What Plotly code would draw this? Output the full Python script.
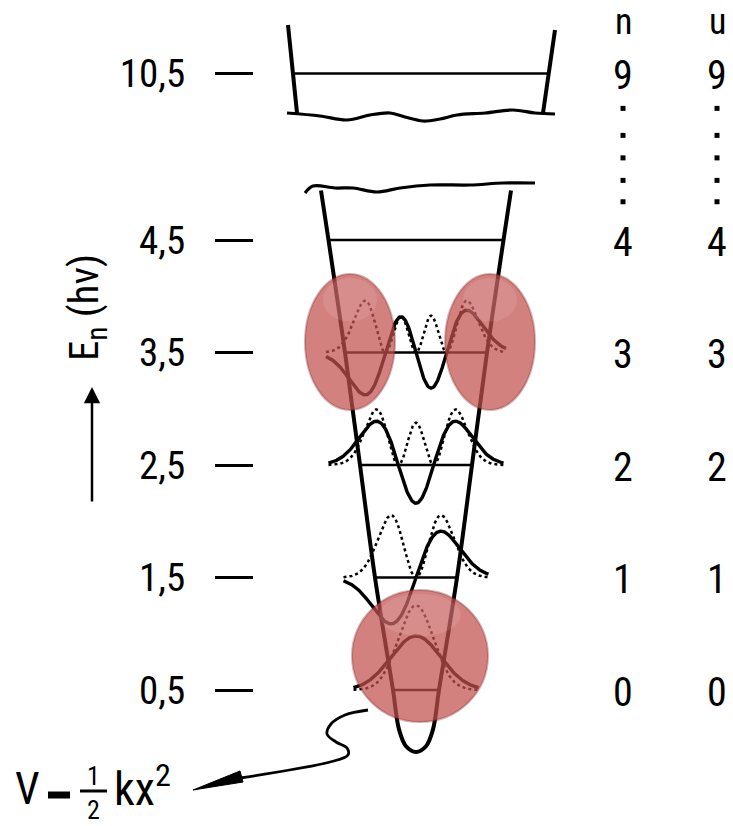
import numpy as np
import plotly.graph_objects as go
from math import factorial, pi, sqrt
from numpy.polynomial.hermite import hermval

W, H = 733, 826

# ---------------- data ----------------
level_energy = [0.5, 1.5, 2.5, 3.5, 4.5, 10.5]
level_n = ["0", "1", "2", "3", "4", "9"]
level_u = ["0", "1", "2", "3", "4", "9"]
level_display = [0.5, 1.5, 2.5, 3.5, 4.5, 5.98]      # 10,5 drawn above an axis break
tick_labels = ["0,5", "1,5", "2,5", "3,5", "4,5", "10,5"]
col_headers = ["n", "u"]
ellipsis_display = [5.67, 5.43, 5.23, 5.03, 4.84]

wave_n = [0, 1, 2, 3]
wave_extent = [2.5, 2.9, 3.5, 3.6]                 # half range of ξ drawn per state

# potential well (lower part): display energy vs half width (ξ units)
wall_E = [-0.05, 0.0, 0.15, 0.5, 1.5, 2.5, 3.5, 4.5, 4.94]
wall_hw = [0.0, 0.40, 0.68, 0.92, 1.64, 2.24, 2.84, 3.50, 3.80]

# upper box (above the break), read in picture pixels
top_left_wall_px = [(288, 25), (297, 113)]
top_right_wall_px = [(555, 30), (543, 113)]
break_low_px = [(287, 113), (320, 116), (347, 120), (370, 115), (390, 113), (405, 117),
                (423, 121), (440, 119), (457, 115), (485, 113), (513, 110), (535, 113), (555, 114)]
break_high_px = [(305, 193), (313, 186), (335, 188), (353, 188), (377, 192), (400, 188),
                 (430, 185), (470, 185), (503, 183), (535, 183)]
v_arrow_px = [(368, 710), (345, 715), (331, 724), (327, 734), (336, 742), (347, 748),
              (348, 755), (330, 762), (240, 778)]

# --------------- scales ---------------
CX, SX = 416.0, 25.0       # px of ξ=0, px per ξ unit
Y0, SY = 690.0, 112.5      # px of E=0.5, px per energy unit


def px2x(px):
    return (px - CX) / SX


def py2y(py):
    return 0.5 + (Y0 - py) / SY


A_PSI = 72 / SY
A_PSI2 = 150 / SY


def psi(n, xi):
    c = np.zeros(n + 1)
    c[n] = 1.0
    return hermval(xi, c) * np.exp(-xi ** 2 / 2) / sqrt(2 ** n * factorial(n) * sqrt(pi))


BLACK = "black"
FONT = "Liberation Sans Narrow, Roboto Condensed, DejaVu Sans Condensed, Arial Narrow, sans-serif"

fig = go.Figure()

# lower well
wx = [-h for h in wall_hw[::-1]] + wall_hw[1:]
wy = wall_E[::-1] + wall_E[1:]
fig.add_trace(go.Scatter(x=wx, y=wy, mode="lines", line=dict(color=BLACK, width=4, shape="spline"),
                         hoverinfo="skip"))

# energy levels in lower well
for E, d in zip(level_energy, level_display):
    if E > 5:
        continue
    hw = float(np.interp(d, wall_E, wall_hw))
    fig.add_trace(go.Scatter(x=[-hw, hw], y=[d, d], mode="lines",
                             line=dict(color=BLACK, width=2.4), hoverinfo="skip"))

# upper box
for wall in (top_left_wall_px, top_right_wall_px):
    fig.add_trace(go.Scatter(x=[px2x(p[0]) for p in wall], y=[py2y(p[1]) for p in wall],
                             mode="lines", line=dict(color=BLACK, width=4), hoverinfo="skip"))
d_top = level_display[-1]
ly = [py2y(p[1]) for p in top_left_wall_px]
lx = [px2x(p[0]) for p in top_left_wall_px]
ry = [py2y(p[1]) for p in top_right_wall_px]
rx = [px2x(p[0]) for p in top_right_wall_px]
xl = float(np.interp(d_top, ly[::-1], lx[::-1]))
xr = float(np.interp(d_top, ry[::-1], rx[::-1]))
fig.add_trace(go.Scatter(x=[xl, xr], y=[d_top, d_top], mode="lines",
                         line=dict(color=BLACK, width=2.6), hoverinfo="skip"))
for br in (break_low_px, break_high_px):
    fig.add_trace(go.Scatter(x=[px2x(p[0]) for p in br], y=[py2y(p[1]) for p in br],
                             mode="lines", line=dict(color=BLACK, width=3.2, shape="spline"),
                             hoverinfo="skip"))

# wavefunctions (solid) and probability densities (dotted)
for n, ext in zip(wave_n, wave_extent):
    E = level_display[n]
    xi = np.linspace(-ext, ext, 300)
    p = psi(n, xi)
    fig.add_trace(go.Scatter(x=xi, y=E + A_PSI2 * p ** 2, mode="lines",
                             line=dict(color=BLACK, width=2.5, dash="dot"), hoverinfo="skip"))
    fig.add_trace(go.Scatter(x=xi, y=E + A_PSI * p, mode="lines",
                             line=dict(color=BLACK, width=3.4), hoverinfo="skip"))

# ellipsis dots in n / u columns
for cx in (623, 717):
    fig.add_trace(go.Scatter(x=[px2x(cx)] * len(ellipsis_display), y=ellipsis_display, mode="markers",
                             marker=dict(symbol="square", size=5, color=BLACK), hoverinfo="skip"))

# arrow curve to potential label
fig.add_trace(go.Scatter(x=[px2x(p[0]) for p in v_arrow_px], y=[py2y(p[1]) for p in v_arrow_px],
                         mode="lines", line=dict(color=BLACK, width=2.8, shape="spline"), hoverinfo="skip"))
head = [(193, 790), (240, 771), (243, 782), (193, 790)]
fig.add_trace(go.Scatter(x=[px2x(p[0]) for p in head], y=[py2y(p[1]) for p in head], mode="lines",
                         fill="toself", fillcolor=BLACK, line=dict(color=BLACK, width=1), hoverinfo="skip"))

ann = []
# n / u columns
for cx, head_txt, vals in ((623, col_headers[0], level_n), (717, col_headers[1], level_u)):
    ann.append(dict(x=px2x(cx), y=py2y(22), text=head_txt, showarrow=False,
                    font=dict(family=FONT, size=36, color=BLACK)))
    for v, d in zip(vals, level_display):
        ann.append(dict(x=px2x(cx), y=d - 2 / SY, text=v, showarrow=False,
                        font=dict(family=FONT, size=40, color=BLACK)))

# axis title
ann.append(dict(x=px2x(87), y=py2y(308), text="E<sub>n</sub> (hν)", textangle=-90, showarrow=False,
                font=dict(family=FONT, size=41, color=BLACK)))
ann.append(dict(x=px2x(92), y=py2y(387), ax=px2x(92), ay=py2y(503), axref="x", ayref="y",
                text="", showarrow=True, arrowhead=2, arrowsize=1.3, arrowwidth=2.5, arrowcolor=BLACK))

# V = 1/2 k x^2
ann.append(dict(x=px2x(27), y=py2y(789), text="V", showarrow=False,
                font=dict(family=FONT, size=44, color=BLACK)))
ann.append(dict(x=px2x(93), y=py2y(793), text="1<br>2", showarrow=False,
                font=dict(family=FONT, size=26, color=BLACK)))
ann.append(dict(x=px2x(112), y=py2y(786), text="kx<sup>2</sup>", showarrow=False, xanchor="left",
                font=dict(family=FONT, size=46, color=BLACK)))

shapes = []
shapes.append(dict(type="line", x0=px2x(48), x1=px2x(70), y0=py2y(795), y1=py2y(795),
                   line=dict(color=BLACK, width=7)))
shapes.append(dict(type="line", x0=px2x(80), x1=px2x(107), y0=py2y(791), y1=py2y(791),
                   line=dict(color=BLACK, width=3)))

# translucent red highlights
for (x0, y0, x1, y1) in ((305, 274, 395, 410), (445, 274, 535, 410), (352, 590, 488, 722)):
    shapes.append(dict(type="circle", xref="x", yref="y", x0=px2x(x0), x1=px2x(x1),
                       y0=py2y(y0), y1=py2y(y1), fillcolor="rgba(192,80,77,0.72)",
                       line=dict(color="rgba(130,40,40,0.35)", width=2), layer="above"))
    mx, w = (x0 + x1) / 2, (x1 - x0)
    shapes.append(dict(type="circle", xref="x", yref="y", x0=px2x(mx - w * 0.3), x1=px2x(mx + w * 0.3),
                       y0=py2y(y0 + 4), y1=py2y(y0 + (y1 - y0) * 0.35),
                       fillcolor="rgba(255,255,255,0.10)", line=dict(width=0), layer="above"))

fig.update_layout(
    width=W, height=H, margin=dict(l=0, r=0, t=0, b=0),
    paper_bgcolor="white", plot_bgcolor="white", showlegend=False,
    xaxis=dict(range=[px2x(0), px2x(W)], visible=False, fixedrange=True),
    yaxis=dict(range=[py2y(H), py2y(0)], tickvals=level_display, ticktext=tick_labels,
               ticks="outside", ticklen=38, tickwidth=2.5, tickcolor=BLACK,
               showline=False, showgrid=False, zeroline=False,
               anchor="free", position=253 / W, ticklabelstandoff=22,
               tickfont=dict(family=FONT, size=39, color=BLACK), fixedrange=True),
    annotations=ann, shapes=shapes,
)

fig.write_html("out.html", config={"displayModeBar": False},
               post_script="document.body.style.margin='0px';")
